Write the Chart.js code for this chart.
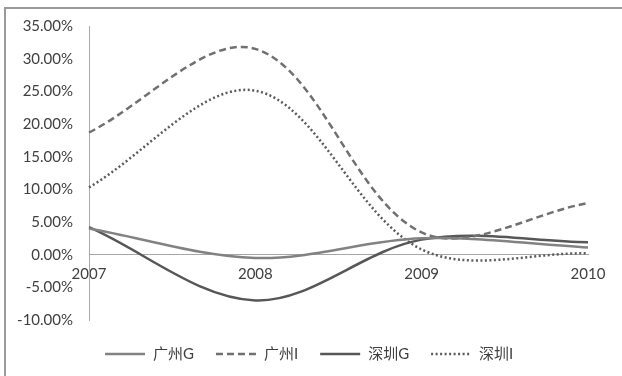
<!DOCTYPE html>
<html>
<head>
<meta charset="utf-8">
<script src="https://cdn.jsdelivr.net/npm/chart.js@4/dist/chart.umd.min.js"></script>
<style>
  html, body { margin: 0; padding: 0; background: #fff; }
  #wrap { width: 622px; height: 376px; position: relative; }
</style>
</head>
<body>
<div id="wrap"><canvas id="c" width="622" height="376"></canvas></div>
<script>
// Years on the horizontal axis
const years = ['2007', '2008', '2009', '2010'];

// Growth rates, in percent
const gzG = [4.0, -0.5, 2.5, 1.1];    // 广州G
const gzI = [18.7, 31.5, 3.4, 7.9];   // 广州I
const szG = [4.2, -7.0, 2.3, 1.9];    // 深圳G
const szI = [10.3, 25.1, 0.8, 0.2];   // 深圳I

// Value axis range and step
const yMin = -10, yMax = 35, yStep = 5;

const FONT = 'Lato, "Noto Sans CJK SC", sans-serif';

// Frame lines and a hand-laid legend row beneath the plot
const framePlugin = {
  id: 'frame',
  beforeDraw(chart) {
    const ctx = chart.ctx;
    ctx.save();
    ctx.fillStyle = '#ffffff';
    ctx.fillRect(0, 0, chart.width, chart.height);
    ctx.strokeStyle = '#9a9a9a';
    ctx.lineWidth = 2;
    ctx.beginPath();
    ctx.moveTo(5, chart.height);
    ctx.lineTo(5, 8);
    ctx.lineTo(chart.width, 8);
    ctx.stroke();
    ctx.restore();
  },
  afterDraw(chart) {
    const ctx = chart.ctx;
    ctx.save();
    ctx.font = '15px ' + FONT;
    ctx.textBaseline = 'middle';
    let x = 105;
    const y = 354;
    chart.data.datasets.forEach(ds => {
      ctx.strokeStyle = ds.borderColor;
      ctx.lineWidth = ds.borderWidth;
      ctx.setLineDash(ds.borderDash || []);
      ctx.beginPath();
      ctx.moveTo(x, y);
      ctx.lineTo(x + 40, y);
      ctx.stroke();
      ctx.setLineDash([]);
      ctx.fillStyle = '#404040';
      ctx.fillText(ds.label, x + 48, y);
      x += 48 + ctx.measureText(ds.label).width + 22;
    });
    ctx.restore();
  }
};

const common = { fill: false, pointRadius: 0, pointHoverRadius: 0, tension: 0.34, borderWidth: 2.5 };

new Chart(document.getElementById('c'), {
  type: 'line',
  data: {
    labels: years,
    datasets: [
      Object.assign({ label: '广州G', data: gzG, borderColor: '#828282' }, common),
      Object.assign({ label: '广州I', data: gzI, borderColor: '#707070', borderDash: [7, 4] }, common),
      Object.assign({ label: '深圳G', data: szG, borderColor: '#575757' }, common),
      Object.assign({ label: '深圳I', data: szI, borderColor: '#5c5c5c', borderDash: [2, 2.5] }, common)
    ]
  },
  options: {
    responsive: false,
    animation: false,
    events: [],
    layout: { padding: { top: 26, right: 34, bottom: 56, left: 0 } },
    plugins: { legend: { display: false }, tooltip: { enabled: false } },
    scales: {
      x: {
        position: { y: 0 },
        grid: { color: 'transparent', drawTicks: false },
        border: { display: true, color: '#a6a6a6', width: 1 },
        ticks: { padding: 10, color: '#404040', font: { family: FONT, size: 15 }, maxRotation: 0 }
      },
      y: {
        min: yMin, max: yMax,
        afterFit(scale) { scale.width = 89; },
        grid: { color: 'transparent', drawTicks: false },
        border: { display: true, color: '#ababab', width: 1 },
        ticks: {
          stepSize: yStep,
          padding: 16,
          color: '#404040',
          font: { family: FONT, size: 15 },
          callback: v => v.toFixed(2) + '%'
        }
      }
    }
  },
  plugins: [framePlugin]
});
</script>
</body>
</html>
